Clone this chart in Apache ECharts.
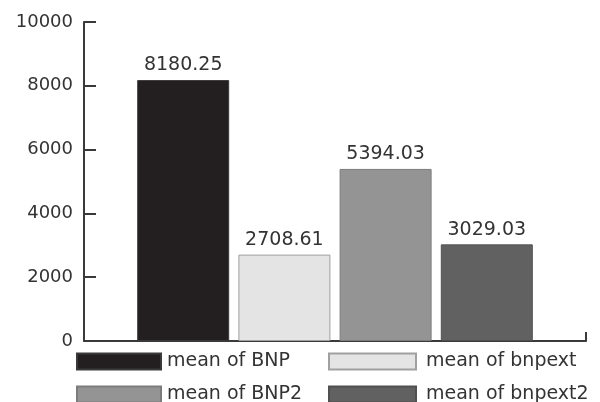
<!DOCTYPE html>
<html>
<head>
<meta charset="utf-8">
<script src="https://cdn.jsdelivr.net/npm/echarts@6/dist/echarts.min.js"></script>
<style>
  html, body { margin: 0; padding: 0; background: #fff; }
  #chart { width: 600px; height: 402px; }
</style>
</head>
<body>
<div id="chart"></div>
<script>
// Mean values per measure
const seriesNames = ['mean of BNP', 'mean of bnpext', 'mean of BNP2', 'mean of bnpext2'];
const meanValues = [8180.25, 2708.61, 5394.03, 3029.03];
const fillColors = ['#231f20', '#e4e4e4', '#949494', '#616161'];
const edgeColors = ['#3a3a3a', '#a0a0a0', '#7c7c7c', '#505050'];
const yTicks = [0, 2000, 4000, 6000, 8000, 10000];

const FONT = 'DejaVu Sans';
const TEXT = '#333333';
const chart = echarts.init(document.getElementById('chart'));

const series = seriesNames.map((name, i) => ({
  name: name,
  type: 'bar',
  data: [meanValues[i]],
  barWidth: 92,
  barGap: '10%',
  itemStyle: { color: fillColors[i], borderColor: edgeColors[i], borderWidth: 1 },
  label: {
    show: true,
    position: 'top',
    distance: 5,
    formatter: p => p.value.toFixed(2),
    fontFamily: FONT,
    fontSize: 19,
    color: TEXT
  },
  emphasis: { disabled: true }
}));

const legendBase = {
  orient: 'vertical',
  top: 352,
  height: 80,
  padding: 0,
  itemHeight: 16,
  itemGap: 14,
  icon: 'rect',
  selectedMode: false
};

chart.setOption({
  animation: false,
  backgroundColor: '#ffffff',
  grid: { left: 84, right: 14, top: 22, bottom: 61 },
  xAxis: {
    type: 'category',
    data: [''],
    axisLine: { lineStyle: { color: '#3a3a3a', width: 2 } },
    axisTick: { show: true, inside: true, length: 9, lineStyle: { color: '#3a3a3a', width: 2 } },
    axisLabel: { show: false }
  },
  yAxis: {
    type: 'value',
    min: yTicks[0],
    max: yTicks[yTicks.length - 1],
    interval: 2000,
    axisLine: { show: true, lineStyle: { color: '#3a3a3a', width: 2 } },
    axisTick: { show: true, inside: true, length: 12, lineStyle: { color: '#3a3a3a', width: 2 } },
    splitLine: { show: false },
    axisLabel: { fontFamily: FONT, fontSize: 18, color: TEXT, margin: 11, formatter: v => String(v) }
  },
  legend: [
    Object.assign({}, legendBase, {
      data: [seriesNames[0], seriesNames[2]],
      left: 76,
      itemWidth: 84,
      textStyle: { fontFamily: FONT, fontSize: 19, color: TEXT, lineHeight: 16, padding: [0, 0, 0, 1] }
    }),
    Object.assign({}, legendBase, {
      data: [seriesNames[1], seriesNames[3]],
      left: 328,
      itemWidth: 87,
      textStyle: { fontFamily: FONT, fontSize: 19, color: TEXT, lineHeight: 16, padding: [0, 0, 0, 5] }
    })
  ],
  series: series
});
</script>
</body>
</html>
